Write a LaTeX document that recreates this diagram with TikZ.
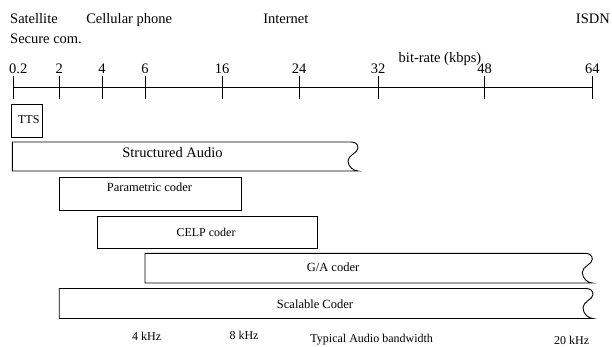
\documentclass[tikz,border=0pt]{standalone}
\usepackage{fontspec}
\setmainfont{Liberation Serif}

% Box whose right side is a wavy (open-ended) edge.
% #1 name, #2 left x, #3 top y, #4 right x, #5 bottom y
\newcommand\openbox[5]{%
  \draw[boxline] ({#4-7},#3) -- (#2,#3) -- (#2,#5) -- (#4,#5)
    .. controls ({#4-4},#5) and ({#4-10},{#5-4}) .. ({#4-10},{#3+19})
    .. controls ({#4-10},{#3+13}) and (#4,{#3+11}) .. (#4,{#3+6})
    .. controls (#4,{#3+2}) and ({#4-3},#3) .. ({#4-7},#3);
  \coordinate (#1) at (#2,#3);
}

\begin{document}
\begin{tikzpicture}[x=1pt,y=-1pt,
  boxline/.style={line width=0.9pt, black},
  axisline/.style={line width=0.9pt, black},
  plainbox/.style={draw, line width=0.9pt, inner sep=0pt},
  biglbl/.style={anchor=base, inner sep=0pt, font=\fontsize{14.5}{16}\selectfont},
  boxlbl/.style={anchor=base, inner sep=0pt, font=\fontsize{12.5}{14}\selectfont},
  smalllbl/.style={anchor=base, inner sep=0pt, font=\fontsize{12}{14}\selectfont}]

\useasboundingbox (0,0) rectangle (612,347);

% application labels
\node[biglbl, anchor=base west] (sat) at (10,24) {Satellite};
\node[biglbl, anchor=base west] (sec) at (10,43.5) {Secure com.};
\node[biglbl] (cell) at (129.2,24) {Cellular phone};
\node[biglbl] (inet) at (285.8,24) {Internet};
\node[biglbl, anchor=base east] (isdn) at (610,24) {ISDN};

% bit-rate axis
\coordinate (axL) at (13.3,87.3);
\coordinate (axR) at (592.3,87.3);
\draw[axisline] (axL) -- (axR);
\node[biglbl] (axtitle) at (440,62.5) {bit-rate (kbps)};
\foreach \x/\lx/\l [count=\i] in {13.3/18.3/0.2, 59.2/59.2/2, 102/102/4, 145/145/6,
    222/222/16, 299/299/24, 378/378/32, 484.7/484.7/48, 592.3/592.3/64} {
  \coordinate (tk\i) at (\x,76.3);
  \draw[axisline] (tk\i) -- (\x,98.7);
  \node[biglbl] (tl\i) at (\lx,74) {\l};
}

% coder ranges
\node[plainbox, minimum width=31pt, minimum height=33.4pt] (tts) at (27.2,121) {};
\node[smalllbl] (ttsl) at (28.8,123.3) {TTS};

\openbox{sa}{12.3}{142}{358}{171}
\node[biglbl] (sal) at (172.5,158) {Structured Audio};

\node[plainbox, minimum width=182.2pt, minimum height=33pt] (par) at (150.4,193.5) {};
\node[boxlbl] (parl) at (149.5,192) {Parametric coder};

\node[plainbox, minimum width=219.6pt, minimum height=32.3pt] (celp) at (207.5,232.2) {};
\node[smalllbl] (celpl) at (206,236) {CELP coder};

\openbox{ga}{145}{253.3}{592.3}{283}
\node[boxlbl] (gal) at (333,271) {G/A coder};

\openbox{sc}{59.2}{288.5}{593}{318.5}
\node[boxlbl] (scl) at (315,308.5) {Scalable Coder};

% audio bandwidth labels
\node[smalllbl] (bw4) at (146.7,340) {4 kHz};
\node[smalllbl] (bw8) at (244,339.5) {8 kHz};
\node[smalllbl] (bwt) at (371.7,342) {Typical Audio bandwidth};
\node[smalllbl] (bw20) at (571.7,344) {20 kHz};

\end{tikzpicture}
\end{document}
